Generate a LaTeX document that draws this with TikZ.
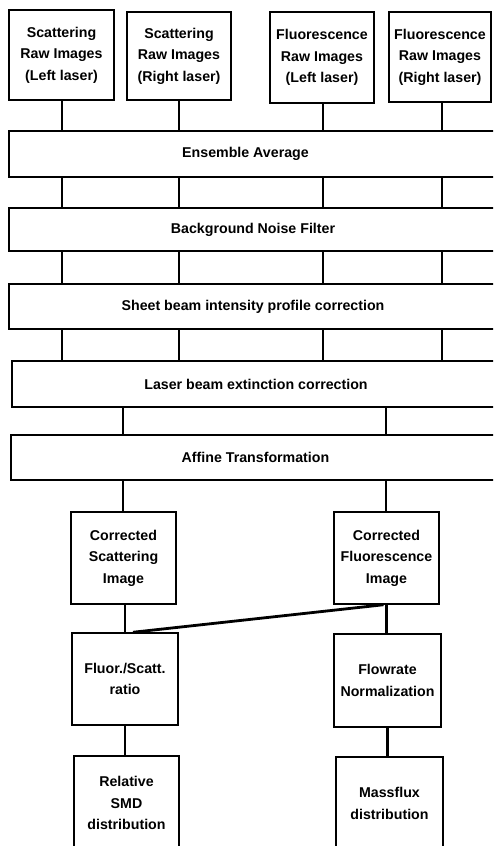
\documentclass[tikz,border=0pt]{standalone}
\usepackage{fontspec}
\setmainfont{Liberation Sans}
\usetikzlibrary{calc}
\begin{document}
\begin{tikzpicture}[x=1pt,y=-1pt,
  box/.style n args={2}{draw, line width=1.5pt, minimum width=#1pt, minimum height=#2pt,
    inner sep=0pt, align=center, anchor=center,
    font=\fontsize{14.2}{21.5}\selectfont\bfseries},
  conn/.style={line width=2.8pt}]
\useasboundingbox (0,0) rectangle (493,846);
\clip (0,0) rectangle (493,846);
\fill[white] (0,0) rectangle (493,846);
% top boxes
\node[box={105}{90}] (s1) at (61.5,55) {Scattering\\Raw Images\\(Left laser)};
\node[box={104}{88}] (s2) at (179,56) {Scattering\\Raw Images\\(Right laser)};
\node[box={104}{91}] (f1) at (322,57.5) {Fluorescence\\Raw Images\\(Left laser)};
\node[box={102}{90}] (f2) at (440,57) {Fluorescence\\Raw Images\\(Right laser)};
% wide boxes
\node[box={488}{46}] (ens) at (253,154) {};
\node[font=\fontsize{14.2}{21.5}\selectfont\bfseries, inner sep=0pt] (ensT) at (245.5,154) {Ensemble Average};
\node[box={488}{43}] (bg) at (253,229.5) {Background Noise Filter};
\node[box={488}{45}] (sheet) at (253,306.5) {Sheet beam intensity profile correction};
\node[box={488}{46}] (laser) at (256,384) {Laser beam extinction correction};
\node[box={489}{45}] (aff) at (255.5,457.5) {Affine Transformation};
% lower boxes
\node[box={105}{92}] (cs) at (123.5,558) {Corrected\\Scattering\\Image};
\node[box={105}{92}] (cf) at (386.5,558) {Corrected\\Fluorescence\\Image};
\node[box={106}{92}] (ratio) at (125,679) {Fluor./Scatt.\\ratio};
\node[box={107}{93}] (flow) at (387.5,680.5) {Flowrate\\Normalization};
\node[box={105}{94}] (rel) at (126.5,803) {Relative\\SMD\\distribution};
\node[box={107}{93}] (mass) at (389.5,803.5) {Massflux\\distribution};
% column coordinates
\coordinate (c1) at (62,0);
\coordinate (c2) at (179,0);
\coordinate (c3) at (323,0);
\coordinate (c4) at (442,0);
\coordinate (d1) at (123,0);
\coordinate (d2) at (386,0);
% connectors top boxes -> ensemble
\draw[conn] (c1 |- s1.south) -- (c1 |- ens.north);
\draw[conn] (c2 |- s2.south) -- (c2 |- ens.north);
\draw[conn] (c3 |- f1.south) -- (c3 |- ens.north);
\draw[conn] (c4 |- f2.south) -- (c4 |- ens.north);
% ensemble -> background -> sheet -> laser
\foreach \c in {c1,c2,c3,c4}{
  \draw[conn] (\c |- ens.south) -- (\c |- bg.north);
  \draw[conn] (\c |- bg.south) -- (\c |- sheet.north);
  \draw[conn] (\c |- sheet.south) -- (\c |- laser.north);
}
% laser -> affine
\draw[conn] (d1 |- laser.south) -- (d1 |- aff.north);
\draw[conn] (d2 |- laser.south) -- (d2 |- aff.north);
% affine -> corrected
\draw[conn] (d1 |- aff.south) -- (d1 |- cs.north);
\draw[conn] (d2 |- aff.south) -- (d2 |- cf.north);
% corrected -> next
\draw[conn] (ratio.north |- cs.south) -- (ratio.north);
\draw[conn] (cf.south) -- (cf.south |- flow.north);
\draw[conn] ($(cf.south)+(-3,0)$) -- ($(ratio.north)+(8,0)$);
% -> final
\draw[conn] (ratio.south) -- (ratio.south |- rel.north);
\draw[conn] (flow.south) -- (flow.south |- mass.north);
\end{tikzpicture}
\end{document}
